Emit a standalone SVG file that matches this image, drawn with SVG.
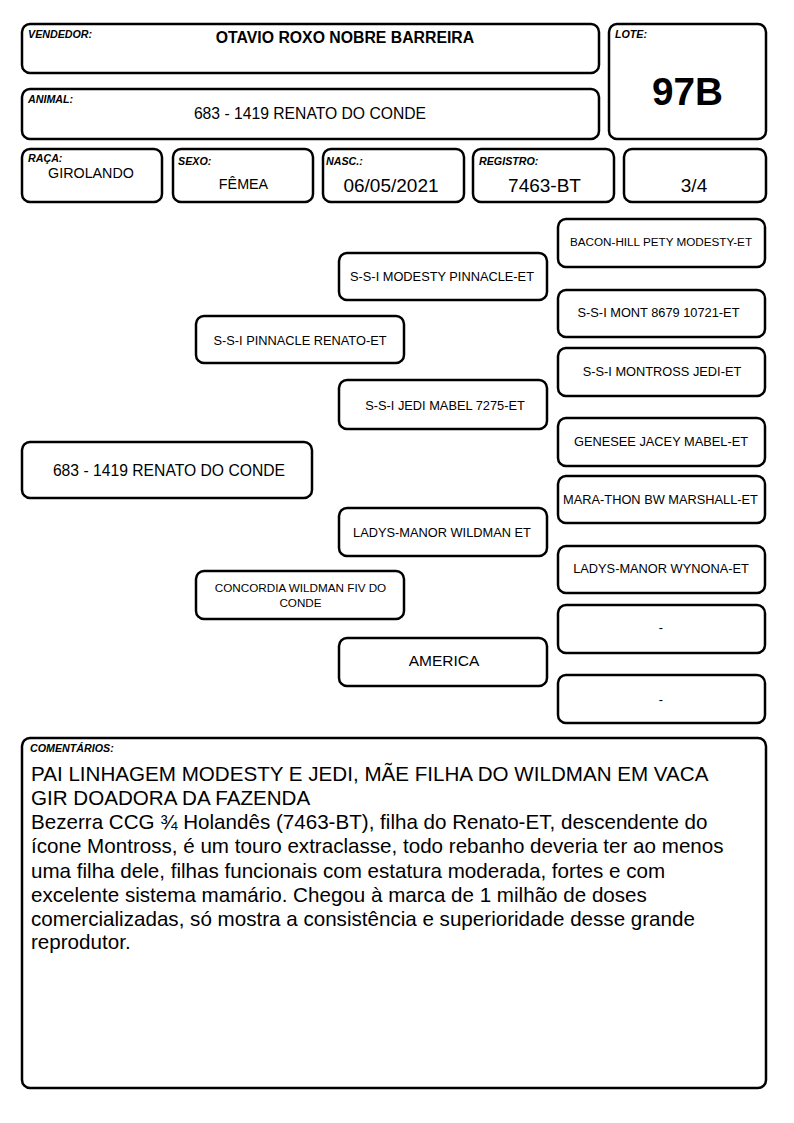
<svg xmlns="http://www.w3.org/2000/svg" width="794" height="1123" viewBox="0 0 794 1123">
<style>
rect.b{fill:#fff;stroke:#000;stroke-width:2.5}
text{font-family:"Liberation Sans",Arial,sans-serif;fill:#000}
.lbl{font-size:10.7px;font-weight:bold;font-style:italic}
.p{font-size:12.8px;text-anchor:middle}
.ps{font-size:11.7px;text-anchor:middle}
.c{text-anchor:middle}
.body{font-size:20.6px}
</style>
<rect width="794" height="1123" fill="#fff"/>
<g id="vendedor">
<rect class="b" x="22" y="24" width="577" height="49" rx="8"/>
<text class="lbl" x="28" y="38">VENDEDOR:</text>
<text class="c" x="345" y="43" font-size="15.8" font-weight="bold">OTAVIO ROXO NOBRE BARREIRA</text>
</g>
<g id="animal">
<rect class="b" x="22" y="89" width="577" height="50" rx="8"/>
<text class="lbl" x="28" y="103">ANIMAL:</text>
<text class="c" x="310" y="118.5" font-size="15.7">683 - 1419 RENATO DO CONDE</text>
</g>
<g id="lote">
<rect class="b" x="609" y="24" width="157" height="115" rx="8"/>
<text class="lbl" x="615" y="38">LOTE:</text>
<text class="c" x="687.5" y="105" font-size="38.7" font-weight="bold">97B</text>
</g>
<g id="raca">
<rect class="b" x="22" y="149" width="140" height="53" rx="8"/>
<text class="lbl" x="28" y="162">RAÇA:</text>
<text class="c" x="91" y="178" font-size="14.3">GIROLANDO</text>
</g>
<g id="sexo">
<rect class="b" x="173" y="149" width="140" height="53" rx="8"/>
<text class="lbl" x="178" y="165">SEXO:</text>
<text class="c" x="243.5" y="189" font-size="14.3">FÊMEA</text>
</g>
<g id="nasc">
<rect class="b" x="323" y="149" width="141" height="53" rx="8"/>
<text class="lbl" x="326" y="165">NASC.:</text>
<text class="c" x="391" y="192" font-size="19">06/05/2021</text>
</g>
<g id="registro">
<rect class="b" x="473" y="149" width="141" height="53" rx="8"/>
<text class="lbl" x="479" y="165">REGISTRO:</text>
<text class="c" x="544.5" y="192" font-size="19">7463-BT</text>
</g>
<g id="grau">
<rect class="b" x="624" y="149" width="142" height="53" rx="8"/>
<text class="c" x="694" y="192" font-size="19">3/4</text>
</g>
<g id="n-main">
<rect class="b" x="22" y="442" width="290" height="56" rx="8"/>
<text class="c" x="169" y="475.5" font-size="15.7">683 - 1419 RENATO DO CONDE</text>
</g>
<g id="n-pai">
<rect class="b" x="196" y="316" width="208" height="47" rx="8"/>
<text class="p" x="300" y="344.5">S-S-I PINNACLE RENATO-ET</text>
</g>
<g id="n-mae">
<rect class="b" x="196" y="571" width="208" height="48" rx="8"/>
<text class="ps" x="300.5" y="592">CONCORDIA WILDMAN FIV DO</text>
<text class="ps" x="300.5" y="607">CONDE</text>
</g>
<g id="n-avo-pp">
<rect class="b" x="339" y="253" width="208" height="47" rx="8"/>
<text class="p" x="442" y="280.5">S-S-I MODESTY PINNACLE-ET</text>
</g>
<g id="n-avo-pm">
<rect class="b" x="339" y="380" width="208" height="49" rx="8"/>
<text class="p" x="445" y="409.5">S-S-I JEDI MABEL 7275-ET</text>
</g>
<g id="n-avo-mp">
<rect class="b" x="339" y="508" width="208" height="48" rx="8"/>
<text class="p" x="442" y="536.5">LADYS-MANOR WILDMAN ET</text>
</g>
<g id="n-avo-mm">
<rect class="b" x="339" y="638" width="208" height="48" rx="8"/>
<text class="c" x="444" y="665.5" font-size="15.5">AMERICA</text>
</g>
<g id="n-bis-1">
<rect class="b" x="558" y="219" width="207" height="48" rx="8"/>
<text class="ps" x="661" y="245.5">BACON-HILL PETY MODESTY-ET</text>
</g>
<g id="n-bis-2">
<rect class="b" x="558" y="290" width="207" height="47" rx="8"/>
<text class="p" x="658.5" y="317">S-S-I MONT 8679 10721-ET</text>
</g>
<g id="n-bis-3">
<rect class="b" x="558" y="348" width="207" height="48" rx="8"/>
<text class="p" x="662" y="376">S-S-I MONTROSS JEDI-ET</text>
</g>
<g id="n-bis-4">
<rect class="b" x="558" y="418" width="207" height="48" rx="8"/>
<text class="p" x="661" y="445.5">GENESEE JACEY MABEL-ET</text>
</g>
<g id="n-bis-5">
<rect class="b" x="558" y="476" width="207" height="47" rx="8"/>
<text class="p" x="660.5" y="503.5">MARA-THON BW MARSHALL-ET</text>
</g>
<g id="n-bis-6">
<rect class="b" x="558" y="546" width="207" height="47" rx="8"/>
<text class="p" x="661" y="572.5">LADYS-MANOR WYNONA-ET</text>
</g>
<g id="n-bis-7">
<rect class="b" x="558" y="605" width="207" height="48" rx="8"/>
<text class="p" x="661" y="631.5">-</text>
</g>
<g id="n-bis-8">
<rect class="b" x="558" y="675" width="207" height="48" rx="8"/>
<text class="p" x="661" y="703.5">-</text>
</g>
<g id="comentarios">
<rect class="b" x="22" y="738" width="744" height="350" rx="8"/>
<text class="lbl" x="30" y="752">COMENTÁRIOS:</text>
<text class="body" x="31" y="781">PAI LINHAGEM MODESTY E JEDI, MÃE FILHA DO WILDMAN EM VACA</text>
<text class="body" x="31" y="805">GIR DOADORA DA FAZENDA</text>
<text class="body" x="31" y="829">Bezerra CCG ¾ Holandês (7463-BT), filha do Renato-ET, descendente do</text>
<text class="body" x="31" y="853">ícone Montross, é um touro extraclasse, todo rebanho deveria ter ao menos</text>
<text class="body" x="31" y="877.5">uma filha dele, filhas funcionais com estatura moderada, fortes e com</text>
<text class="body" x="31" y="901.5">excelente sistema mamário. Chegou à marca de 1 milhão de doses</text>
<text class="body" x="31" y="925.5">comercializadas, só mostra a consistência e superioridade desse grande</text>
<text class="body" x="31" y="949">reprodutor.</text>
</g>
</svg>
